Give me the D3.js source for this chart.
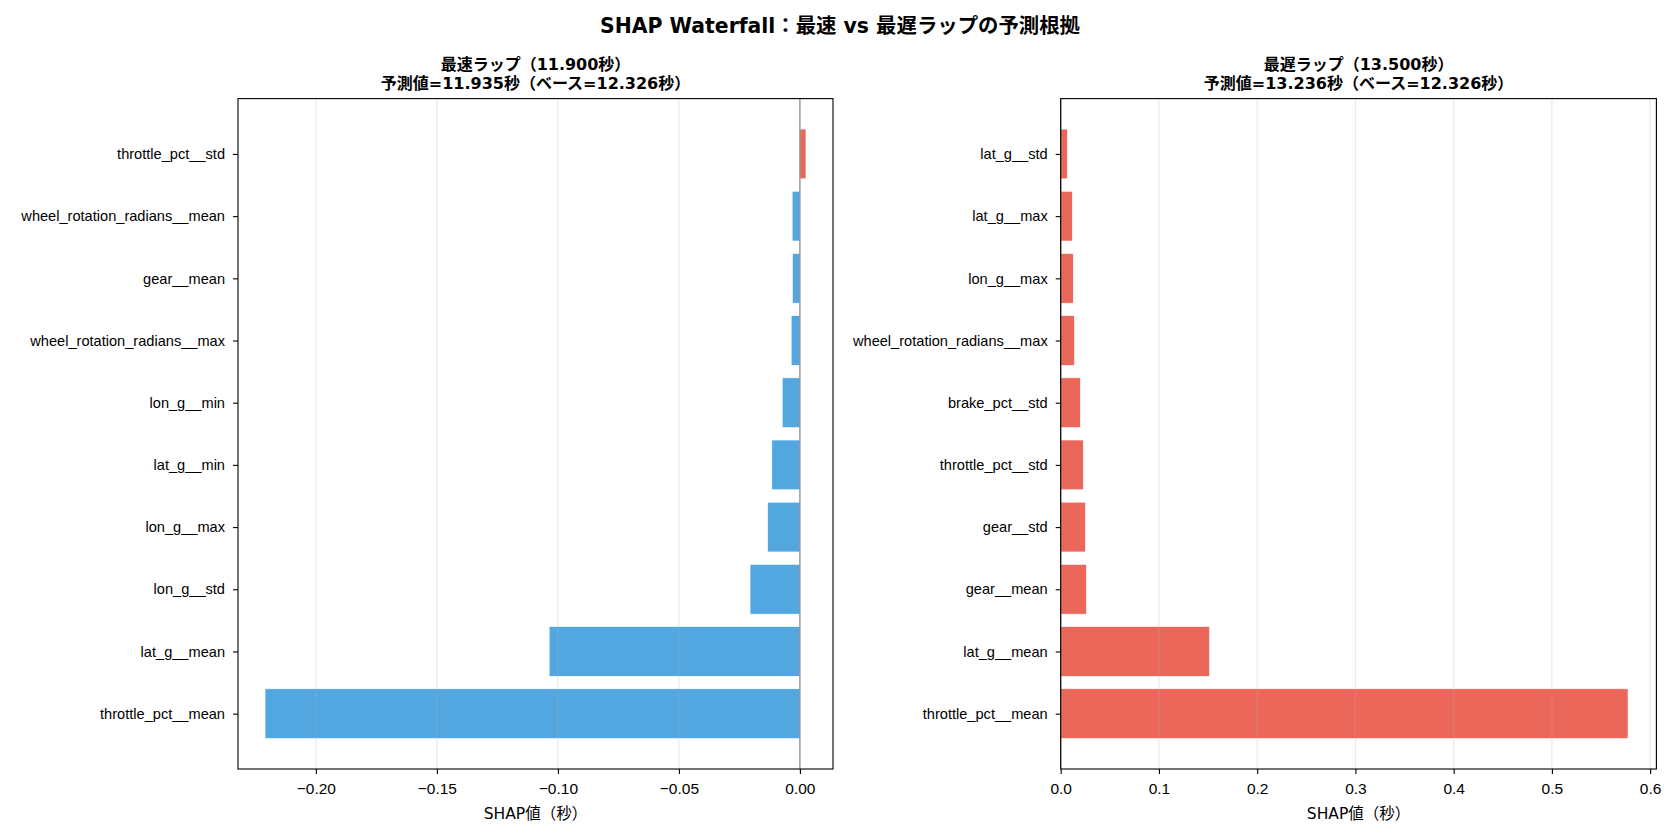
<!DOCTYPE html>
<html>
<head>
<meta charset="utf-8">
<script src="https://cdn.jsdelivr.net/npm/d3@7"></script>
<style>
  html, body { margin: 0; padding: 0; background: #fff; }
  svg { font-family: "DejaVu Sans", "Noto Sans CJK JP", sans-serif; }
</style>
</head>
<body>
<div id="chart"></div>
<script>
// fastest lap (top -> bottom)
const fastFeatures = ["throttle_pct__std", "wheel_rotation_radians__mean", "gear__mean",
  "wheel_rotation_radians__max", "lon_g__min", "lat_g__min", "lon_g__max",
  "lon_g__std", "lat_g__mean", "throttle_pct__mean"]
const fastShap = [0.0025, -0.0032, -0.0031, -0.0036, -0.0073, -0.0116, -0.0133,
  -0.0206, -0.1036, -0.221]

// slowest lap (top -> bottom)
const slowFeatures = ["lat_g__std", "lat_g__max", "lon_g__max", "wheel_rotation_radians__max",
  "brake_pct__std", "throttle_pct__std", "gear__std", "gear__mean",
  "lat_g__mean", "throttle_pct__mean"]
const slowShap = [0.0067, 0.0118, 0.0128, 0.0139, 0.0200, 0.0230, 0.0251, 0.0261,
  0.1516, 0.5775]

const suptitle = "SHAP Waterfall：最速 vs 最遅ラップの予測根拠"
const fastTitle = ["最速ラップ（11.900秒）", "予測値=11.935秒（ベース=12.326秒）"]
const slowTitle = ["最遅ラップ（13.500秒）", "予測値=13.236秒（ベース=12.326秒）"]
const xLabel = "SHAP値（秒）"

const W = 1680, H = 840
const plotTop = 98.6, plotBottom = 769

const svg = d3.select("#chart").append("svg")
  .attr("width", W).attr("height", H)

svg.append("text")
  .attr("x", 840).attr("y", 33)
  .attr("text-anchor", "middle")
  .style("font-size", "20.4px").style("font-weight", "bold")
  .text(suptitle)

drawPanel(fastFeatures, fastShap, fastTitle, 238, 833, ".2f")
drawPanel(slowFeatures, slowShap, slowTitle, 1060.7, 1656.4, ".1f")

function drawPanel(names, values, title, left, right, fmt) {
  const n = names.length
  const g = svg.append("g")

  // matplotlib-like 5% margins, 0 acts as a sticky edge
  const vMin = d3.min(values), vMax = d3.max(values)
  const span = vMin < 0 ? vMax - vMin : vMax
  const lo = vMin < 0 ? vMin - span * 0.05 : 0
  const hi = vMax > 0 ? vMax + span * 0.05 : 0

  const x = d3.scaleLinear().domain([lo, hi]).range([left, right])
  const barH = 0.8
  const pad = (n - 1 + barH) * 0.05
  const y = d3.scaleLinear()
    .domain([-barH / 2 - pad, n - 1 + barH / 2 + pad])
    .range([plotTop, plotBottom])

  // bars
  g.append("g").selectAll("rect")
    .data(values)
    .join("rect")
    .attr("x", d => x(Math.min(0, d)))
    .attr("width", d => Math.abs(x(d) - x(0)))
    .attr("y", (d, i) => y(i - barH / 2))
    .attr("height", y(barH) - y(0))
    .attr("fill", d => d >= 0 ? "#e74c3c" : "#3498db")
    .attr("fill-opacity", 0.85)
    .attr("stroke", "#fff")
    .attr("stroke-width", 0.6)

  // grid
  const ticks = x.ticks(6).filter(t => t >= lo - 1e-9 && t <= hi + 1e-9)
  g.append("g").selectAll("line")
    .data(ticks)
    .join("line")
    .attr("x1", d => x(d)).attr("x2", d => x(d))
    .attr("y1", plotTop).attr("y2", plotBottom)
    .attr("stroke", "#b0b0b0").attr("stroke-opacity", 0.3)
    .attr("stroke-width", 1.1)

  // zero line
  g.append("line")
    .attr("x1", x(0)).attr("x2", x(0))
    .attr("y1", plotTop).attr("y2", plotBottom)
    .attr("stroke", "gray").attr("stroke-width", 1.1)

  // frame
  g.append("rect")
    .attr("x", left).attr("y", plotTop)
    .attr("width", right - left).attr("height", plotBottom - plotTop)
    .attr("fill", "none").attr("stroke", "#000").attr("stroke-width", 1.1)

  // x axis
  const xAxis = g.append("g")
    .attr("transform", `translate(0,${plotBottom})`)
    .call(d3.axisBottom(x).tickValues(ticks).tickFormat(d3.format(fmt)).tickSize(5).tickPadding(9))
  xAxis.select(".domain").remove()
  xAxis.selectAll("text").style("font-size", "15.5px").attr("fill", "#000")
  xAxis.selectAll("line").attr("stroke", "#000").attr("stroke-width", 1.1)

  // y axis
  const yAxis = g.append("g")
    .attr("transform", `translate(${left},0)`)
    .call(d3.axisLeft(y).tickValues(d3.range(n)).tickFormat(i => names[i]).tickSize(5).tickPadding(8))
  yAxis.select(".domain").remove()
  yAxis.selectAll("text").style("font-size", "14.6px").attr("fill", "#000")
  yAxis.selectAll("line").attr("stroke", "#000").attr("stroke-width", 1.1)

  // x label
  g.append("text")
    .attr("x", (left + right) / 2).attr("y", 819)
    .attr("text-anchor", "middle")
    .style("font-size", "15.5px")
    .text(xLabel)

  // panel title
  const cx = (left + right) / 2
  g.append("text")
    .attr("x", cx).attr("y", 70)
    .attr("text-anchor", "middle")
    .style("font-size", "16px").style("font-weight", "bold")
    .text(title[0])
  g.append("text")
    .attr("x", cx).attr("y", 88.5)
    .attr("text-anchor", "middle")
    .style("font-size", "16px").style("font-weight", "bold")
    .text(title[1])
}
</script>
</body>
</html>
